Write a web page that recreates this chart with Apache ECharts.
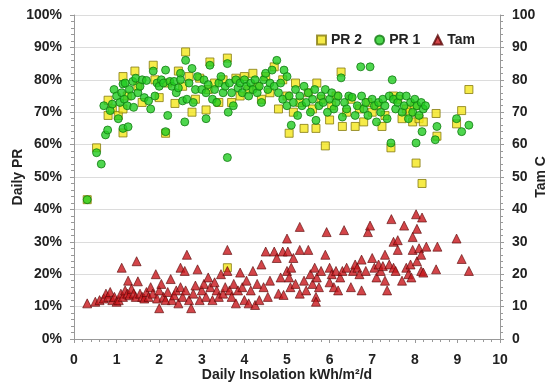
<!DOCTYPE html>
<html>
<head>
<meta charset="utf-8">
<script src="https://cdn.jsdelivr.net/npm/echarts@6/dist/echarts.min.js"></script>
<style>
  html, body { margin: 0; padding: 0; background: #fff; }
  #chart { width: 548px; height: 383px; }
</style>
</head>
<body>
<div id="chart"></div>
<script>
// PR 2 - 黄色方块 [insolation, PR%]
var pr2Data = [
  [0.31,43],[0.53,59],[0.8,73.7],[0.8,69],[0.9,71],[1.04,69],[1.15,81],[1.15,63.6],[1.15,71],[1.25,75],
  [1.43,82.7],[1.5,78],[1.6,73],[1.86,84.5],[1.9,80],[2.0,74.5],[2.15,63.5],[2.2,79],[2.37,72.7],[2.45,82.7],
  [2.55,78],[2.62,88.6],[2.7,81],[2.77,70],[2.85,74],[2.95,80.5],[3.1,70.7],[3.15,77],[3.19,85.5],[3.3,79],
  [3.4,73],[3.5,80],[3.6,86.7],[3.6,22],[3.7,73],[3.8,80.5],[3.9,75],[4.0,81],[4.1,77],[4.2,82],
  [4.3,78],[4.4,74],[4.5,81],[4.6,76],[4.7,84],[4.8,71],[4.9,80],[5.0,75],[5.05,63.5],[5.15,70],
  [5.2,79],[5.3,73],[5.4,65],[5.5,76],[5.6,71],[5.7,79],[5.68,65],[5.8,74],[5.9,59.6],[6.0,67.6],
  [6.05,72],[6.15,75],[6.27,82.4],[6.3,65.6],[6.4,70],[6.5,74],[6.6,65.6],[6.7,71],[6.8,67],[6.9,73],
  [7.0,70],[7.1,72],[7.23,65.6],[7.3,69],[7.44,59],[7.5,75],[7.6,74],[7.7,68],[7.8,71],[7.9,70],
  [7.95,67],[8.0,72],[8.03,54.3],[8.1,68],[8.17,48],[8.2,67],[8.5,69.6],[8.52,62.6],[8.98,66.4],[9.1,70.5],
  [9.27,77]
]
// PR 1 - 绿色圆点
var pr1Data = [
  [0.31,43],[0.53,57.5],[0.64,54],[0.74,63],[0.79,64.5],[0.7,72],[0.85,70.5],[0.9,72.5],[0.94,77],[1.0,75],
  [1.04,68],[1.08,73],[1.15,78.7],[1.15,65],[1.12,76],[1.18,74],[1.2,79],[1.27,65.5],[1.25,72],[1.3,77],
  [1.35,75],[1.38,79.5],[1.4,71.5],[1.45,80.5],[1.5,76],[1.55,78],[1.6,80],[1.65,74.5],[1.7,79.8],[1.75,73.5],
  [1.8,71],[1.86,82.7],[1.9,75],[1.95,79],[2.0,78],[2.05,80],[2.1,79],[2.15,83],[2.15,64],[2.2,69],
  [2.25,79.5],[2.3,78],[2.35,79.5],[2.4,76],[2.45,77.5],[2.5,82],[2.5,80],[2.55,73.5],[2.6,67],[2.62,86],
  [2.65,74],[2.7,79],[2.77,83.5],[2.8,73],[2.85,77],[2.9,81],[3.0,77],[3.05,80],[3.1,68],[3.1,76],
  [3.15,78.5],[3.19,84.5],[3.25,74],[3.3,77],[3.35,73],[3.4,79],[3.45,81],[3.5,76],[3.55,78],[3.6,85],
  [3.6,56],[3.62,70],[3.65,79],[3.7,76],[3.74,72],[3.8,80],[3.85,77.5],[3.9,79],[3.95,76],[4.0,80],
  [4.05,78],[4.1,75],[4.15,79],[4.2,77],[4.25,80],[4.3,76],[4.35,78],[4.4,73],[4.45,80],[4.5,82],
  [4.55,77],[4.6,79],[4.65,83],[4.7,78],[4.76,86],[4.8,76],[4.85,79],[4.9,74],[4.93,83],[5.0,81],
  [5.0,72],[5.05,75],[5.1,66],[5.15,73],[5.2,77],[5.25,69],[5.3,75],[5.35,72],[5.4,78],[5.45,73],
  [5.5,76],[5.55,70],[5.6,74],[5.65,77],[5.68,67.5],[5.75,72],[5.8,75],[5.85,73],[5.9,77],[5.95,70],
  [6.0,74],[6.05,76],[6.1,71],[6.15,73],[6.2,75],[6.27,80.6],[6.3,68.5],[6.35,73],[6.4,71],[6.45,75],
  [6.53,74.6],[6.6,69],[6.65,72],[6.73,84],[6.75,75],[6.8,71],[6.85,73],[6.9,69],[6.95,84],[7.0,74],
  [7.05,72],[7.1,67],[7.15,73],[7.2,70],[7.25,74],[7.3,72],[7.35,68],[7.4,75],[7.44,60.5],[7.47,80],
  [7.5,74],[7.55,71],[7.6,73],[7.65,75],[7.7,70],[7.75,72],[7.8,75],[7.85,68],[7.9,73],[7.95,70],
  [8.0,74],[8.03,60.5],[8.05,72],[8.1,69],[8.17,64],[8.15,73],[8.2,71],[8.25,72],[8.48,61.5],[8.52,65.6],
  [8.98,68],[9.1,64],[9.27,66]
]
// Tam - 红色三角 (右轴)
var tamData = [
  [0.31,11],[0.5,11.5],[0.6,12],[0.7,12.5],[0.75,14],[0.8,13],[0.85,14.5],[0.9,12],[0.95,13],[1.0,11.5],
  [1.05,12],[1.1,14],[1.12,22],[1.15,13],[1.2,15],[1.25,14],[1.27,18],[1.3,13.5],[1.35,15.5],[1.4,14],
  [1.45,13],[1.47,24],[1.5,17.8],[1.55,14],[1.6,13],[1.65,12.5],[1.7,14.5],[1.75,13],[1.8,16],[1.85,14],
  [1.92,20],[1.95,12.5],[2.0,9.5],[2.0,15],[2.05,17],[2.1,13],[2.15,12],[2.2,14.5],[2.27,18.5],[2.3,12],
  [2.35,13.5],[2.4,15],[2.45,11],[2.5,22],[2.5,16],[2.55,13],[2.6,21],[2.62,15],[2.65,26],[2.7,12],
  [2.75,9.5],[2.8,14],[2.85,16.5],[2.9,21.5],[2.95,12],[3.0,15],[3.05,17],[3.1,13],[3.15,19],[3.2,16],
  [3.25,12],[3.3,17.5],[3.35,15],[3.4,13],[3.45,20],[3.5,14],[3.55,16],[3.6,27.5],[3.6,21],[3.65,15],
  [3.7,13],[3.75,17],[3.8,11],[3.85,15],[3.9,20.5],[3.95,16],[4.0,12],[4.05,18],[4.1,11],[4.15,15],
  [4.2,21],[4.25,10.5],[4.3,17],[4.35,12],[4.4,23],[4.45,16],[4.5,27],[4.55,13],[4.6,18],[4.7,27],
  [4.76,25],[4.8,14],[4.85,19],[4.9,27],[4.92,13.6],[5.0,31],[5.0,21],[5.02,27],[5.05,19],[5.08,16],
  [5.1,22],[5.15,25],[5.2,17],[5.3,34.6],[5.3,27.5],[5.3,14],[5.4,18],[5.45,15],[5.5,27.5],[5.55,20],
  [5.6,17],[5.65,22],[5.68,13],[5.68,11.5],[5.7,19],[5.75,16],[5.8,21],[5.9,26],[5.93,33],[6.0,17.5],
  [6.0,22],[6.05,20],[6.1,16],[6.15,21],[6.2,15],[6.25,19],[6.3,21],[6.34,33.6],[6.4,22],[6.5,16],
  [6.55,21],[6.6,23],[6.65,22],[6.7,20],[6.75,24.5],[6.75,15],[6.85,21],[6.9,33],[6.95,35],[7.0,25],
  [7.05,22],[7.1,19],[7.15,23],[7.2,21],[7.25,22.5],[7.3,26],[7.3,18],[7.35,15],[7.4,23],[7.45,37],
  [7.5,22],[7.5,30],[7.55,21],[7.6,30.5],[7.6,27.5],[7.7,18],[7.75,35],[7.8,22],[7.85,20],[7.9,23],
  [7.92,19],[7.95,31.5],[7.95,27.5],[8.03,38.5],[8.05,34],[8.05,24],[8.1,28],[8.15,26],[8.15,21],[8.17,37.5],
  [8.2,20.5],[8.27,28.5],[8.5,21.5],[8.53,28.5],[8.98,31],[9.1,24.7],[9.27,21]
]

var labelFont = { color: '#222', fontWeight: 'bold', fontSize: 14, fontFamily: 'Liberation Sans, Arial' }
var grayLine = { lineStyle: { color: '#999' } }

var chart = echarts.init(document.getElementById('chart'))
chart.setOption({
  backgroundColor: '#fff',
  animation: false,
  grid: { left: 74, right: 48, top: 15, bottom: 44, outerBoundsMode: 'none', containLabel: false },
  legend: {
    top: 28,
    right: 68,
    itemWidth: 9,
    itemHeight: 9,
    itemGap: 12,
    textStyle: { color: '#222', fontWeight: 'bold', fontSize: 14, fontFamily: 'Liberation Sans, Arial' },
    data: ['PR 2', 'PR 1', 'Tam']
  },
  xAxis: {
    type: 'value',
    min: 0, max: 10, interval: 1,
    name: 'Daily Insolation kWh/m\u00b2/d',
    nameLocation: 'middle',
    nameGap: 29,
    nameMoveOverlap: false,
    nameTextStyle: labelFont,
    axisLine: grayLine,
    axisTick: { show: true, length: 4, lineStyle: { color: '#999' } },
    minorTick: { show: true, splitNumber: 5, length: 3, lineStyle: { color: '#999' } },
    splitLine: { show: false },
    axisLabel: Object.assign({ margin: 14 }, labelFont)
  },
  yAxis: [{
    type: 'value',
    min: 0, max: 100, interval: 10,
    name: 'Daily PR',
    nameLocation: 'middle',
    nameRotate: 90,
    nameGap: 49,
    nameMoveOverlap: false,
    nameTextStyle: labelFont,
    axisLine: { show: true, lineStyle: { color: '#999' } },
    axisTick: { show: true, length: 4, lineStyle: { color: '#999' } },
    minorTick: { show: true, splitNumber: 5, length: 3, lineStyle: { color: '#999' } },
    splitLine: { show: true, lineStyle: { color: '#dcdcdc' } },
    axisLabel: Object.assign({ formatter: '{value}%', margin: 12 }, labelFont)
  }, {
    type: 'value',
    min: 0, max: 100, interval: 10,
    name: 'Tam C',
    nameLocation: 'middle',
    nameRotate: 90,
    nameGap: 34,
    nameMoveOverlap: false,
    nameTextStyle: labelFont,
    position: 'right',
    axisLine: { show: true, lineStyle: { color: '#999' } },
    axisTick: { show: true, length: 4, lineStyle: { color: '#999' } },
    minorTick: { show: true, splitNumber: 5, length: 3, lineStyle: { color: '#999' } },
    splitLine: { show: false },
    axisLabel: Object.assign({ margin: 12 }, labelFont)
  }],
  series: [{
    name: 'PR 2',
    type: 'scatter',
    symbol: 'rect',
    symbolSize: 8,
    itemStyle: { color: '#f4e61a', borderColor: '#857a10', borderWidth: 1 },
    data: pr2Data
  }, {
    name: 'PR 1',
    type: 'scatter',
    symbol: 'circle',
    symbolSize: 8,
    itemStyle: { color: '#22cc22', borderColor: '#137a13', borderWidth: 1 },
    data: pr1Data
  }, {
    name: 'Tam',
    type: 'scatter',
    yAxisIndex: 1,
    symbol: 'triangle',
    symbolSize: 9,
    itemStyle: { color: '#c8161b', borderColor: '#5a0808', borderWidth: 0.8 },
    data: tamData
  }]
})
</script>
</body>
</html>
